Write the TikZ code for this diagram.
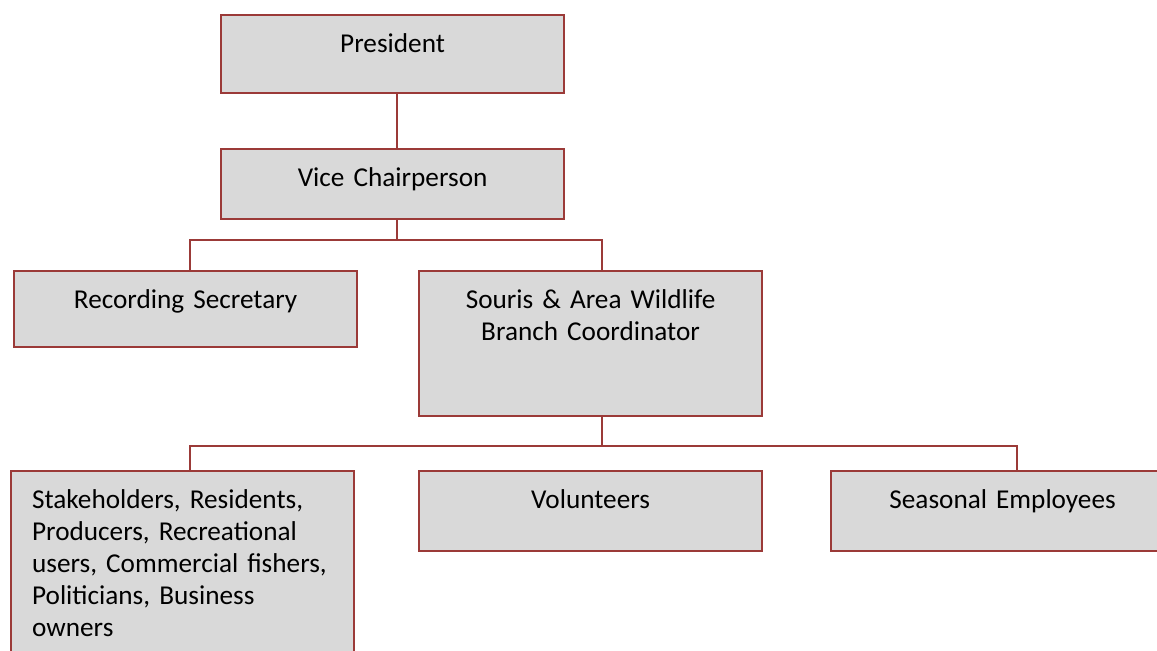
\documentclass[tikz,border=0pt]{standalone}
\usepackage{fontspec}
\setmainfont{Carlito}[WordSpace={0.75,0,0}]
\usepackage{xcolor}
\usepackage{tikz}

\definecolor{boxred}{RGB}{155,58,56}
\definecolor{boxgray}{RGB}{217,217,217}

\begin{document}
\begin{tikzpicture}[x=0.02cm,y=-0.02cm]
        \def\boxfont{\fontsize{15.5pt}{18.2pt}\selectfont}

        \tikzset{orgbox/.style={
           draw=boxred,
           fill=boxgray,
           line width=0.045cm,
           anchor=north west,
           align=center,
           text width=6.02cm,
           inner xsep=0.42cm,
           inner ysep=0pt,
           text height=0.74cm,
           text depth=#1,
           font=\boxfont
        },
        link/.style={draw=boxred, line width=0.04cm}}

        \useasboundingbox (0,0) rectangle (1157,651);
        \clip (0,0) rectangle (1157,651);

        % Top
        \node[orgbox=0.82cm] (pres) at (220,14) {President};
        \node[orgbox=0.66cm] (vice) at (220,148) {Vice Chairperson};

        % Second row
        \node[orgbox=0.78cm] (rec) at (13,270) {Recording Secretary};
        \node[orgbox=2.16cm] (souris) at (418,270) {Souris \& Area Wildlife\\ Branch Coordinator};

        % Third row
        \node[orgbox=3.26cm, align=left] (stake) at (10,470) {Stakeholders, Residents,\\ Producers, Recreational\\ users, Commercial fishers,\\ Politicians, Business\\ owners};
        \node[orgbox=0.86cm] (vol) at (418,470) {Volunteers};
        \node[orgbox=0.86cm] (seas) at (830,470) {Seasonal Employees};

        % Lines
        \coordinate (top) at (397,240);
        \coordinate (topl) at (190,240);
        \coordinate (topr) at (602,240);
        \coordinate (low) at (602,446);
        \coordinate (lowl) at (190,446);
        \coordinate (lowr) at (1017,446);

        \draw[link] (pres.south -| top) -- (vice.north -| top);
        \draw[link] (vice.south -| top) -- (top);
        \draw[link] (rec.north -| topl) -- (topl) -- (topr) -- (souris.north -| topr);
        \draw[link] (souris.south -| low) -- (low);
        \draw[link] (stake.north -| lowl) -- (lowl) -- (lowr) -- (seas.north -| lowr);
    \end{tikzpicture}
\end{document}
